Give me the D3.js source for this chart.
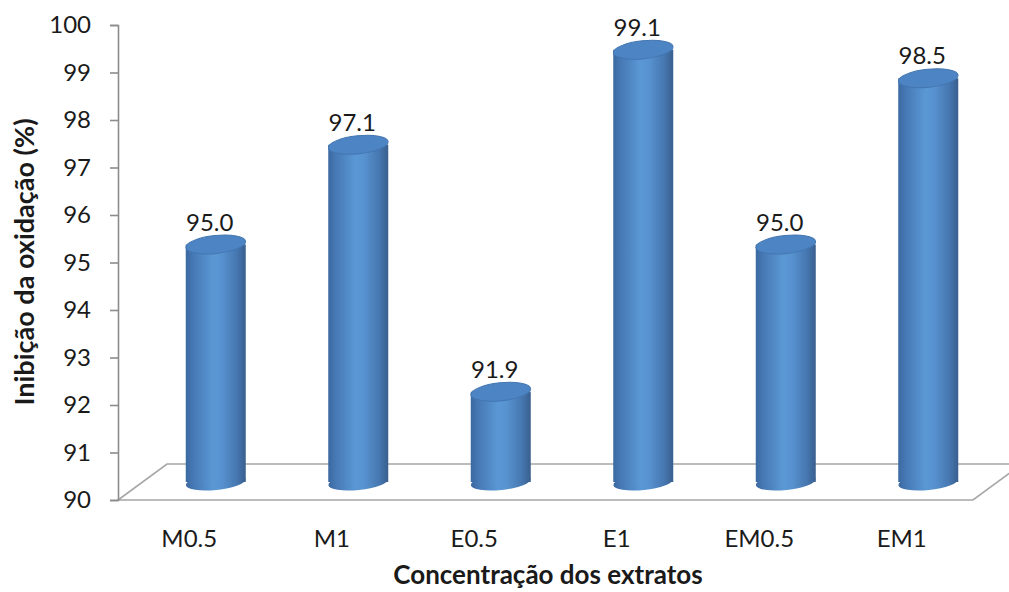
<!DOCTYPE html>
<html>
<head>
<meta charset="utf-8">
<script src="https://cdn.jsdelivr.net/npm/d3@7"></script>
<style>
  body { margin: 0; background: #fff; }
  text { font-family: Lato, "Open Sans", sans-serif; fill: #1a1a1a; }
</style>
</head>
<body>
<div id="chart"></div>
<script>
// Data
const categories = ["M0.5", "M1", "E0.5", "E1", "EM0.5", "EM1"];
const values = [95.0, 97.1, 91.9, 99.1, 95.0, 98.5];
const yTicks = [90, 91, 92, 93, 94, 95, 96, 97, 98, 99, 100];

const width = 1009, height = 592;
const svg = d3.select("#chart").append("svg")
    .attr("width", width)
    .attr("height", height);

// front plane scales
const x = d3.scaleBand().domain(categories).range([118, 973]);
const y = d3.scaleLinear().domain([90, 100]).range([500, 25]);

// depth offset of the 3D floor
const depthX = 49, depthY = -36;

const defs = svg.append("defs");

// Floor
const fy = y(90);
const floorPts = [
    [x.range()[0], fy],
    [x.range()[1], fy],
    [x.range()[1] + depthX, fy + depthY],
    [x.range()[0] + depthX, fy + depthY]
];
svg.append("polygon")
    .attr("points", floorPts.map(p => p.join(",")).join(" "))
    .attr("fill", "#fff")
    .attr("stroke", "#a6a6a6")
    .attr("stroke-width", 1.6);

// Y axis
const yAxis = svg.append("g")
    .attr("transform", `translate(${x.range()[0]},0)`)
    .call(d3.axisLeft(y).tickValues(yTicks).tickSize(8).tickPadding(19).tickFormat(d3.format("d")));
yAxis.select(".domain").attr("stroke", "#8c8c8c").attr("stroke-width", 1.6);
yAxis.selectAll(".tick line").attr("stroke", "#8c8c8c").attr("stroke-width", 1.6);
yAxis.selectAll(".tick text")
    .attr("font-size", 24)
    .attr("font-family", "Lato, sans-serif")
    .attr("fill", "#1a1a1a");

// Cylinders
const rx = 30, ry = 8, tilt = -6;
const bars = svg.append("g");
categories.forEach((c, i) => {
    const cx = x(c) + x.bandwidth() / 2 + depthX / 2 + 2;
    const yb = y(90) + depthY / 2;
    const yt = y(values[i]) + depthY / 2;

    const gid = "grad" + i;
    const grad = defs.append("linearGradient")
        .attr("id", gid)
        .attr("gradientUnits", "userSpaceOnUse")
        .attr("x1", cx - rx).attr("x2", cx + rx)
        .attr("y1", 0).attr("y2", 0);
    [[0, "#3b69a0"], [0.12, "#4678b4"], [0.45, "#5a98d4"], [0.6, "#5792cf"], [0.85, "#4677b0"], [1, "#395f8e"]]
        .forEach(s => grad.append("stop").attr("offset", s[0]).attr("stop-color", s[1]));

    const g = bars.append("g");
    g.append("ellipse")
        .attr("cx", cx).attr("cy", yb)
        .attr("rx", rx).attr("ry", ry)
        .attr("transform", `rotate(${tilt},${cx},${yb})`)
        .attr("fill", `url(#${gid})`);
    g.append("rect")
        .attr("x", cx - rx).attr("y", yt)
        .attr("width", rx * 2).attr("height", yb - yt)
        .attr("fill", `url(#${gid})`);
    g.append("ellipse")
        .attr("cx", cx).attr("cy", yt)
        .attr("rx", rx).attr("ry", ry + 1)
        .attr("transform", `rotate(${tilt},${cx},${yt})`)
        .attr("fill", "#4d84c3")
        .attr("stroke", "#4376b1")
        .attr("stroke-width", 1);

    // value label
    svg.append("text")
        .attr("x", cx - 6)
        .attr("y", yt - 14)
        .attr("text-anchor", "middle")
        .attr("font-size", 24)
        .text(values[i].toFixed(1));
});

// Category labels
svg.append("g").selectAll("text")
    .data(categories)
    .join("text")
    .attr("x", d => x(d) + x.bandwidth() / 2)
    .attr("y", 547)
    .attr("text-anchor", "middle")
    .attr("font-size", 24)
    .text(d => d);

// Axis titles
svg.append("text")
    .attr("x", 548)
    .attr("y", 584)
    .attr("text-anchor", "middle")
    .attr("font-size", 26)
    .attr("font-weight", "bold")
    .text("Concentração dos extratos");

svg.append("text")
    .attr("transform", `translate(34,262) rotate(-90)`)
    .attr("text-anchor", "middle")
    .attr("font-size", 27)
    .attr("font-weight", "bold")
    .text("Inibição da oxidação (%)");
</script>
</body>
</html>
